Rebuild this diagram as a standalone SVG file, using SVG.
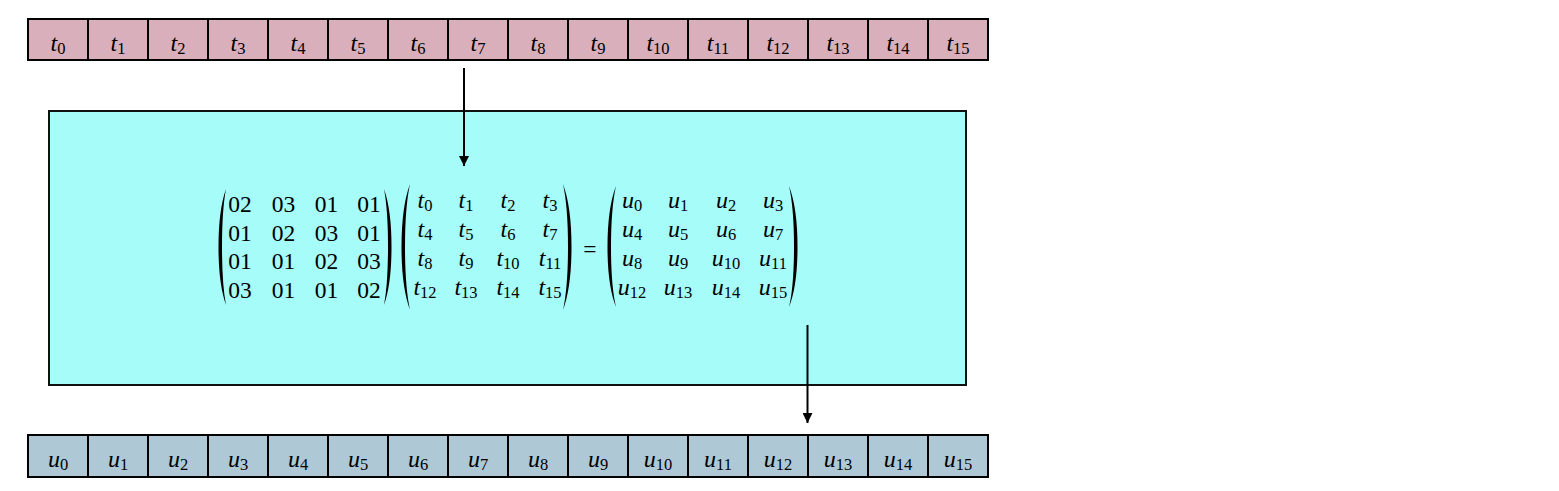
<svg xmlns="http://www.w3.org/2000/svg" width="1559" height="491" viewBox="0 0 1559 491">
<style>
.ct{fill:#D9AFBB;stroke:#000;stroke-width:2}
.cu{fill:#AEC8D6;stroke:#000;stroke-width:2}
.lab{font-family:"Liberation Serif",serif;font-size:24px;font-style:italic;text-anchor:middle;fill:#000}
.sub{font-size:16.5px;font-style:normal}
.num{font-family:"Liberation Serif",serif;font-size:23.5px;text-anchor:middle;fill:#000}
.par{fill:#000}
.conn{stroke:#000;stroke-width:2;fill:none}
</style>
<defs>
<marker id="ah" viewBox="0 0 10 10" refX="10" refY="5" markerWidth="10" markerHeight="10" markerUnits="userSpaceOnUse" orient="auto">
<path d="M0,0 L10,5 L0,10 Z" fill="#000"/>
</marker>
</defs>
<rect width="1559" height="491" fill="#fff"/>
<g id="box">
<rect x="49" y="111" width="917" height="274" fill="#A6FCF8" stroke="#111" stroke-width="2"/>
<g id="matrixA">
<path class="par" d="M226,189 Q218.5,210 218.5,247 Q218.5,284 226,305 Q222,284 222,247 Q222,210 226,189 Z"/>
<path class="par" d="M384,189 Q391.5,210 391.5,247 Q391.5,284 384,305 Q388,284 388,247 Q388,210 384,189 Z"/>
<text class="num" x="240" y="212">02</text><text class="num" x="283.5" y="212">03</text><text class="num" x="326.5" y="212">01</text><text class="num" x="369" y="212">01</text>
<text class="num" x="240" y="240.5">01</text><text class="num" x="283.5" y="240.5">02</text><text class="num" x="326.5" y="240.5">03</text><text class="num" x="369" y="240.5">01</text>
<text class="num" x="240" y="269">01</text><text class="num" x="283.5" y="269">01</text><text class="num" x="326.5" y="269">02</text><text class="num" x="369" y="269">03</text>
<text class="num" x="240" y="297.5">03</text><text class="num" x="283.5" y="297.5">01</text><text class="num" x="326.5" y="297.5">01</text><text class="num" x="369" y="297.5">02</text>
</g>
<g id="matrixT">
<path class="par" d="M410,184 Q401.5,207 401.5,247 Q401.5,287 410,310 Q405,287 405,247 Q405,207 410,184 Z"/>
<path class="par" d="M563,184 Q571.5,207 571.5,247 Q571.5,287 563,310 Q568,287 568,247 Q568,207 563,184 Z"/>
<text class="lab" x="425" y="208">t<tspan class="sub" dy="3">0</tspan></text>
<text class="lab" x="466" y="208">t<tspan class="sub" dy="3">1</tspan></text>
<text class="lab" x="508" y="208">t<tspan class="sub" dy="3">2</tspan></text>
<text class="lab" x="550" y="208">t<tspan class="sub" dy="3">3</tspan></text>
<text class="lab" x="425" y="237">t<tspan class="sub" dy="3">4</tspan></text>
<text class="lab" x="466" y="237">t<tspan class="sub" dy="3">5</tspan></text>
<text class="lab" x="508" y="237">t<tspan class="sub" dy="3">6</tspan></text>
<text class="lab" x="550" y="237">t<tspan class="sub" dy="3">7</tspan></text>
<text class="lab" x="425" y="266">t<tspan class="sub" dy="3">8</tspan></text>
<text class="lab" x="466" y="266">t<tspan class="sub" dy="3">9</tspan></text>
<text class="lab" x="508" y="266">t<tspan class="sub" dy="3">10</tspan></text>
<text class="lab" x="550" y="266">t<tspan class="sub" dy="3">11</tspan></text>
<text class="lab" x="425" y="295">t<tspan class="sub" dy="3">12</tspan></text>
<text class="lab" x="466" y="295">t<tspan class="sub" dy="3">13</tspan></text>
<text class="lab" x="508" y="295">t<tspan class="sub" dy="3">14</tspan></text>
<text class="lab" x="550" y="295">t<tspan class="sub" dy="3">15</tspan></text>
</g>
<text class="num" x="590" y="257" font-size="30">=</text>
<g id="matrixU">
<path class="par" d="M616,186 Q607.5,208 607.5,247 Q607.5,286 616,307 Q611,286 611,247 Q611,208 616,186 Z"/>
<path class="par" d="M789,186 Q797.5,208 797.5,247 Q797.5,286 789,307 Q794,286 794,247 Q794,208 789,186 Z"/>
<text class="lab" x="632" y="208">u<tspan class="sub" dy="3">0</tspan></text>
<text class="lab" x="678" y="208">u<tspan class="sub" dy="3">1</tspan></text>
<text class="lab" x="726" y="208">u<tspan class="sub" dy="3">2</tspan></text>
<text class="lab" x="773" y="208">u<tspan class="sub" dy="3">3</tspan></text>
<text class="lab" x="632" y="237">u<tspan class="sub" dy="3">4</tspan></text>
<text class="lab" x="678" y="237">u<tspan class="sub" dy="3">5</tspan></text>
<text class="lab" x="726" y="237">u<tspan class="sub" dy="3">6</tspan></text>
<text class="lab" x="773" y="237">u<tspan class="sub" dy="3">7</tspan></text>
<text class="lab" x="632" y="266">u<tspan class="sub" dy="3">8</tspan></text>
<text class="lab" x="678" y="266">u<tspan class="sub" dy="3">9</tspan></text>
<text class="lab" x="726" y="266">u<tspan class="sub" dy="3">10</tspan></text>
<text class="lab" x="773" y="266">u<tspan class="sub" dy="3">11</tspan></text>
<text class="lab" x="632" y="295">u<tspan class="sub" dy="3">12</tspan></text>
<text class="lab" x="678" y="295">u<tspan class="sub" dy="3">13</tspan></text>
<text class="lab" x="726" y="295">u<tspan class="sub" dy="3">14</tspan></text>
<text class="lab" x="773" y="295">u<tspan class="sub" dy="3">15</tspan></text>
</g>
</g>
<g id="inputRow">
<g id="t0"><rect class="ct" x="28" y="19" width="60" height="41"/><text class="lab" x="58" y="51">t<tspan class="sub" dy="3">0</tspan></text></g>
<g id="t1"><rect class="ct" x="88" y="19" width="60" height="41"/><text class="lab" x="118" y="51">t<tspan class="sub" dy="3">1</tspan></text></g>
<g id="t2"><rect class="ct" x="148" y="19" width="60" height="41"/><text class="lab" x="178" y="51">t<tspan class="sub" dy="3">2</tspan></text></g>
<g id="t3"><rect class="ct" x="208" y="19" width="60" height="41"/><text class="lab" x="238" y="51">t<tspan class="sub" dy="3">3</tspan></text></g>
<g id="t4"><rect class="ct" x="268" y="19" width="60" height="41"/><text class="lab" x="298" y="51">t<tspan class="sub" dy="3">4</tspan></text></g>
<g id="t5"><rect class="ct" x="328" y="19" width="60" height="41"/><text class="lab" x="358" y="51">t<tspan class="sub" dy="3">5</tspan></text></g>
<g id="t6"><rect class="ct" x="388" y="19" width="60" height="41"/><text class="lab" x="418" y="51">t<tspan class="sub" dy="3">6</tspan></text></g>
<g id="t7"><rect class="ct" x="448" y="19" width="60" height="41"/><text class="lab" x="478" y="51">t<tspan class="sub" dy="3">7</tspan></text></g>
<g id="t8"><rect class="ct" x="508" y="19" width="60" height="41"/><text class="lab" x="538" y="51">t<tspan class="sub" dy="3">8</tspan></text></g>
<g id="t9"><rect class="ct" x="568" y="19" width="60" height="41"/><text class="lab" x="598" y="51">t<tspan class="sub" dy="3">9</tspan></text></g>
<g id="t10"><rect class="ct" x="628" y="19" width="60" height="41"/><text class="lab" x="658" y="51">t<tspan class="sub" dy="3">10</tspan></text></g>
<g id="t11"><rect class="ct" x="688" y="19" width="60" height="41"/><text class="lab" x="718" y="51">t<tspan class="sub" dy="3">11</tspan></text></g>
<g id="t12"><rect class="ct" x="748" y="19" width="60" height="41"/><text class="lab" x="778" y="51">t<tspan class="sub" dy="3">12</tspan></text></g>
<g id="t13"><rect class="ct" x="808" y="19" width="60" height="41"/><text class="lab" x="838" y="51">t<tspan class="sub" dy="3">13</tspan></text></g>
<g id="t14"><rect class="ct" x="868" y="19" width="60" height="41"/><text class="lab" x="898" y="51">t<tspan class="sub" dy="3">14</tspan></text></g>
<g id="t15"><rect class="ct" x="928" y="19" width="60" height="41"/><text class="lab" x="958" y="51">t<tspan class="sub" dy="3">15</tspan></text></g>
</g>
<g id="outputRow">
<g id="u0"><rect class="cu" x="28" y="435" width="60" height="42"/><text class="lab" x="58" y="467">u<tspan class="sub" dy="3">0</tspan></text></g>
<g id="u1"><rect class="cu" x="88" y="435" width="60" height="42"/><text class="lab" x="118" y="467">u<tspan class="sub" dy="3">1</tspan></text></g>
<g id="u2"><rect class="cu" x="148" y="435" width="60" height="42"/><text class="lab" x="178" y="467">u<tspan class="sub" dy="3">2</tspan></text></g>
<g id="u3"><rect class="cu" x="208" y="435" width="60" height="42"/><text class="lab" x="238" y="467">u<tspan class="sub" dy="3">3</tspan></text></g>
<g id="u4"><rect class="cu" x="268" y="435" width="60" height="42"/><text class="lab" x="298" y="467">u<tspan class="sub" dy="3">4</tspan></text></g>
<g id="u5"><rect class="cu" x="328" y="435" width="60" height="42"/><text class="lab" x="358" y="467">u<tspan class="sub" dy="3">5</tspan></text></g>
<g id="u6"><rect class="cu" x="388" y="435" width="60" height="42"/><text class="lab" x="418" y="467">u<tspan class="sub" dy="3">6</tspan></text></g>
<g id="u7"><rect class="cu" x="448" y="435" width="60" height="42"/><text class="lab" x="478" y="467">u<tspan class="sub" dy="3">7</tspan></text></g>
<g id="u8"><rect class="cu" x="508" y="435" width="60" height="42"/><text class="lab" x="538" y="467">u<tspan class="sub" dy="3">8</tspan></text></g>
<g id="u9"><rect class="cu" x="568" y="435" width="60" height="42"/><text class="lab" x="598" y="467">u<tspan class="sub" dy="3">9</tspan></text></g>
<g id="u10"><rect class="cu" x="628" y="435" width="60" height="42"/><text class="lab" x="658" y="467">u<tspan class="sub" dy="3">10</tspan></text></g>
<g id="u11"><rect class="cu" x="688" y="435" width="60" height="42"/><text class="lab" x="718" y="467">u<tspan class="sub" dy="3">11</tspan></text></g>
<g id="u12"><rect class="cu" x="748" y="435" width="60" height="42"/><text class="lab" x="778" y="467">u<tspan class="sub" dy="3">12</tspan></text></g>
<g id="u13"><rect class="cu" x="808" y="435" width="60" height="42"/><text class="lab" x="838" y="467">u<tspan class="sub" dy="3">13</tspan></text></g>
<g id="u14"><rect class="cu" x="868" y="435" width="60" height="42"/><text class="lab" x="898" y="467">u<tspan class="sub" dy="3">14</tspan></text></g>
<g id="u15"><rect class="cu" x="928" y="435" width="60" height="42"/><text class="lab" x="958" y="467">u<tspan class="sub" dy="3">15</tspan></text></g>
</g>
<g id="connectors">
<line class="conn" x1="464" y1="68" x2="464" y2="166" marker-end="url(#ah)"/>
<line class="conn" x1="807.5" y1="325" x2="807.5" y2="423" marker-end="url(#ah)"/>
</g>
</svg>
